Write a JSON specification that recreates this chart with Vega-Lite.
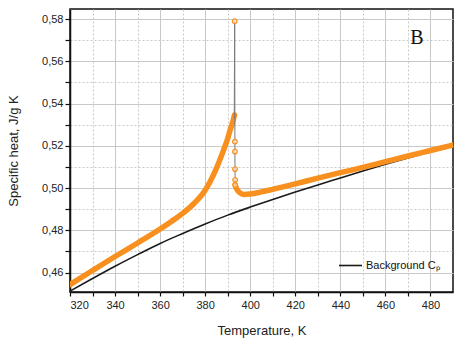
{
  "$schema": "https://vega.github.io/schema/vega-lite/v6.json",
  "width": 383,
  "height": 283,
  "autosize": "none",
  "padding": {"left": 70, "top": 9, "right": 10, "bottom": 52},
  "background": "white",
  "config": {
    "view": {"stroke": "#111", "strokeWidth": 1.5},
    "axis": {
      "labelFont": "Liberation Sans", "titleFont": "Liberation Sans",
      "labelFontSize": 11, "titleFontSize": 13, "titleFontWeight": "normal",
      "labelColor": "#222", "titleColor": "#222",
      "domainColor": "#111", "domainWidth": 1.5,
      "tickColor": "#111", "tickSize": 4, "tickWidth": 1.2,
      "gridColor": "#c8c8c8", "gridWidth": 1
    },
    "legend": {
      "labelFont": "Liberation Sans", "labelFontSize": 11, "labelColor": "#111"
    }
  },
  "datasets": {
    "bg": [
      {"T": 320, "cp": 0.4512}, {"T": 330, "cp": 0.4572}, {"T": 340, "cp": 0.4630},
      {"T": 350, "cp": 0.4685}, {"T": 360, "cp": 0.4738}, {"T": 370, "cp": 0.4785},
      {"T": 380, "cp": 0.4830}, {"T": 390, "cp": 0.4872}, {"T": 400, "cp": 0.4910},
      {"T": 410, "cp": 0.4946}, {"T": 420, "cp": 0.4981}, {"T": 430, "cp": 0.5015},
      {"T": 440, "cp": 0.5048}, {"T": 450, "cp": 0.5081}, {"T": 460, "cp": 0.5113},
      {"T": 470, "cp": 0.5143}, {"T": 480, "cp": 0.5172}, {"T": 490, "cp": 0.5200}
    ],
    "cp": [
      {"seg": "a", "T": 320, "cp": 0.4543}, {"seg": "a", "T": 330, "cp": 0.4610},
      {"seg": "a", "T": 340, "cp": 0.4676}, {"seg": "a", "T": 350, "cp": 0.4740},
      {"seg": "a", "T": 360, "cp": 0.4806}, {"seg": "a", "T": 365, "cp": 0.4842},
      {"seg": "a", "T": 370, "cp": 0.4880}, {"seg": "a", "T": 375, "cp": 0.4927},
      {"seg": "a", "T": 380, "cp": 0.4990}, {"seg": "a", "T": 384, "cp": 0.5070},
      {"seg": "a", "T": 386, "cp": 0.5120}, {"seg": "a", "T": 388, "cp": 0.5175},
      {"seg": "a", "T": 390, "cp": 0.5235}, {"seg": "a", "T": 391, "cp": 0.5272},
      {"seg": "a", "T": 392, "cp": 0.5305}, {"seg": "a", "T": 392.6, "cp": 0.5328},
      {"seg": "a", "T": 393.0, "cp": 0.5346},
      {"seg": "b", "T": 393.3, "cp": 0.5015}, {"seg": "b", "T": 393.8, "cp": 0.5000},
      {"seg": "b", "T": 394.5, "cp": 0.4988}, {"seg": "b", "T": 395.5, "cp": 0.4977},
      {"seg": "b", "T": 397, "cp": 0.4970}, {"seg": "b", "T": 400, "cp": 0.4972},
      {"seg": "b", "T": 405, "cp": 0.4982}, {"seg": "b", "T": 410, "cp": 0.4994},
      {"seg": "b", "T": 420, "cp": 0.5020}, {"seg": "b", "T": 430, "cp": 0.5047},
      {"seg": "b", "T": 440, "cp": 0.5073}, {"seg": "b", "T": 450, "cp": 0.5098},
      {"seg": "b", "T": 460, "cp": 0.5125}, {"seg": "b", "T": 470, "cp": 0.5152},
      {"seg": "b", "T": 480, "cp": 0.5178}, {"seg": "b", "T": 490, "cp": 0.5204}
    ],
    "spike": [
      {"T": 392.9, "cp": 0.5330}, {"T": 393.1, "cp": 0.5790}, {"T": 393.2, "cp": 0.5220},
      {"T": 393.2, "cp": 0.5173}, {"T": 393.25, "cp": 0.5090}, {"T": 393.3, "cp": 0.5039},
      {"T": 393.3, "cp": 0.5015}
    ],
    "pts": [
      {"T": 393.1, "cp": 0.5790}, {"T": 393.2, "cp": 0.5220}, {"T": 393.2, "cp": 0.5173},
      {"T": 393.25, "cp": 0.5090}, {"T": 393.3, "cp": 0.5039}, {"T": 393.3, "cp": 0.5015}
    ],
    "lbl": [{"T": 474, "cp": 0.571, "text": "B"}]
  },
  "encoding": {
    "x": {
      "field": "T", "type": "quantitative",
      "scale": {"domain": [320, 490], "nice": false, "zero": false},
      "axis": {
        "title": "Temperature, K", "titlePadding": 14,
        "values": [320, 330, 340, 350, 360, 370, 380, 390, 400, 410, 420, 430, 440, 450, 460, 470, 480],
        "labelExpr": "datum.value % 20 == 0 ? datum.label : ''",
        "labelPadding": 3,
        "gridDash": {"condition": {"test": "datum.value % 20 != 0", "value": [2, 2]}, "value": []}
      }
    },
    "y": {
      "field": "cp", "type": "quantitative",
      "scale": {"domain": [0.4508, 0.5848], "nice": false, "zero": false},
      "axis": {
        "title": "Specific heat, J/g K", "titlePadding": 21,
        "values": [0.46, 0.47, 0.48, 0.49, 0.50, 0.51, 0.52, 0.53, 0.54, 0.55, 0.56, 0.57, 0.58],
        "labelExpr": "round(datum.value * 100) % 2 == 0 ? replace(format(datum.value, '.2f'), '.', ',') : ''",
        "labelPadding": 2,
        "tickSize": 5,
        "gridDash": {"condition": {"test": "round(datum.value * 100) % 2 != 0", "value": [2, 2]}, "value": []}
      }
    }
  },
  "layer": [
    {
      "data": {"name": "bg"},
      "mark": {"type": "line", "strokeWidth": 1.6, "interpolate": "monotone", "clip": true},
      "encoding": {
        "color": {
          "datum": "Background Cₚ",
          "scale": {"range": ["#1a1a1a"]},
          "legend": {
            "title": null, "orient": "none", "legendX": 268, "legendY": 244,
            "symbolType": "stroke", "symbolSize": 529, "symbolStrokeWidth": 1.6,
            "labelOffset": 3, "padding": 0
          }
        }
      }
    },
    {
      "data": {"name": "cp"},
      "mark": {"type": "line", "strokeWidth": 5.5, "color": "#f7901e", "strokeCap": "round", "strokeJoin": "round", "interpolate": "monotone", "clip": true},
      "encoding": {"detail": {"field": "seg"}}
    },
    {
      "data": {"name": "spike"},
      "mark": {"type": "line", "strokeWidth": 1, "color": "#7a7a7a"},
      "encoding": {"order": {"value": null}}
    },
    {
      "data": {"name": "pts"},
      "mark": {"type": "point", "shape": "circle", "filled": false, "size": 22, "strokeWidth": 1.2, "color": "#f7901e", "fill": "#fde3c8", "fillOpacity": 0.7}
    },
    {
      "data": {"name": "lbl"},
      "mark": {"type": "text", "font": "Liberation Serif", "fontSize": 20, "color": "#111", "baseline": "middle", "align": "center"},
      "encoding": {"text": {"field": "text"}}
    }
  ]
}
